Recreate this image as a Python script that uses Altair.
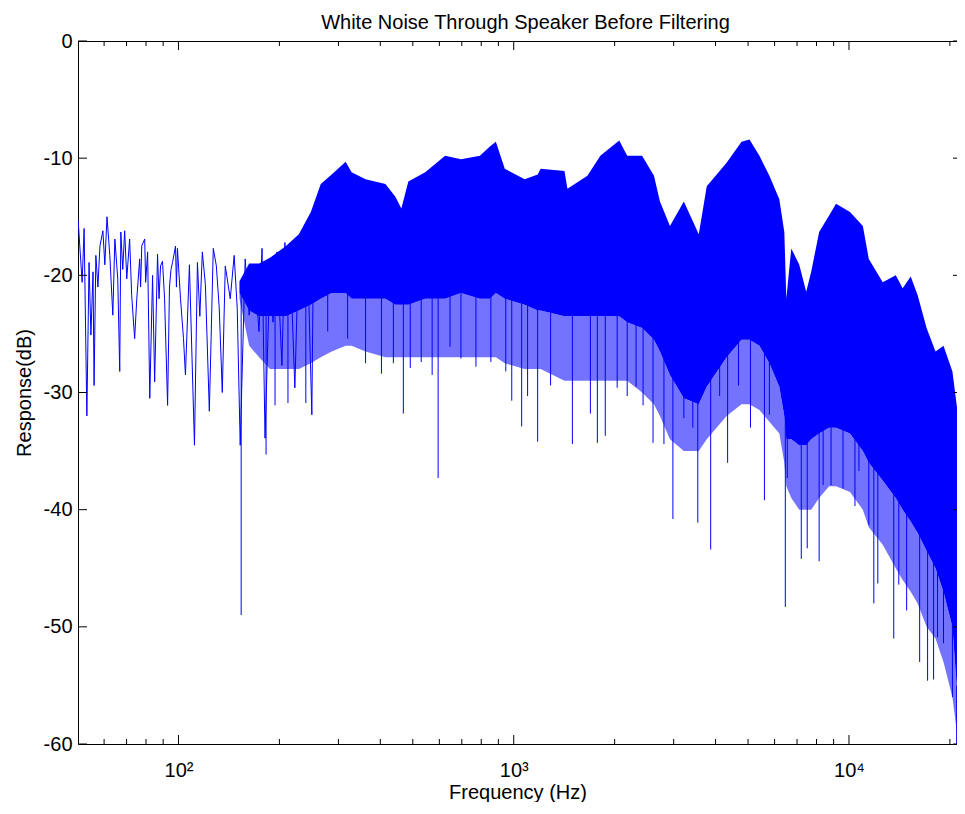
import altair as alt
import pandas as pd

# ---- sparse low-frequency trace (Hz, dB) ----
sparse_freq = [50.2, 51.6, 52.3, 53.3, 54.1, 54.8, 55.6, 56.0, 56.7, 57.5, 58.3, 59.5, 60.3, 61.2, 62.4,
               63.7, 64.6, 65.9, 66.8, 67.3, 68.2, 69.1, 70.1, 71.5, 72.5, 74.0, 75.1, 76.6, 77.1, 77.7,
               79.3, 79.8, 80.9, 82.1, 83.7, 84.9, 86.6, 87.5, 88.4, 89.6, 90.9, 92.8, 94.0, 95.0, 96.0,
               98.0, 98.6, 99.3, 101.4, 103.5, 104.9, 107.8, 111.6, 113.9, 115.8, 117.8, 120.3, 123.6,
               127.0, 129.7, 132.3, 135.1, 137.9, 142.7, 146.6, 149.7, 152.8, 158.1, 162.5, 168.1, 173.9,
               177.5, 181.2, 187.5, 191.4, 196.7, 203.5, 207.7, 211.3, 215.0, 222.4, 228.6, 234.9, 241.5,
               249.9, 253.3]
sparse_db = [-15.3, -20.6, -16.0, -32.0, -18.9, -25.1, -19.7, -29.4, -18.3, -21.0, -17.5, -16.2, -19.1, -15.0,
             -18.3, -23.4, -16.9, -20.3, -28.2, -16.3, -19.5, -16.2, -20.3, -16.9, -21.7, -25.4, -22.0, -18.6,
             -21.0, -17.5, -16.9, -20.6, -18.0, -30.5, -20.0, -29.1, -18.2, -22.0, -19.2, -18.8, -22.0, -31.1,
             -21.0, -19.5, -18.9, -17.5, -21.0, -17.7, -22.0, -25.4, -28.5, -19.1, -34.5, -18.9, -23.5, -18.0,
             -20.8, -31.6, -17.7, -19.2, -22.8, -30.0, -19.2, -22.0, -18.3, -22.8, -34.5, -18.6, -23.4, -19.2,
             -24.8, -17.7, -33.9, -19.2, -24.0, -18.0, -27.7, -17.2, -22.0, -17.7, -29.6, -16.9, -21.0, -15.8,
             -31.9, -14.6]

# ---- dense band: upper / lower envelope of the solid part, and of the spiky fringe (Hz, dB) ----
band_freq = [152.0, 162.5, 173.9, 187.5, 209.2, 228.6, 248.2, 265.7, 286.4, 315.2, 328.4, 361.4, 414.3, 443.6,
             462.1, 484.9, 544.5, 624.2, 696.0, 792.7, 848.9, 884.5, 940.3, 1078, 1179, 1203, 1417, 1446, 1659,
             1813, 2064, 2180, 2415, 2620, 2730, 2924, 3217, 3564, 3765, 4315, 4781, 5050, 5406, 5789, 6198,
             6414, 6503, 6729, 7107, 7455, 7714, 8147, 8725, 9150, 10070, 11000, 11460, 12610, 13790, 14460,
             15280, 16030, 17040, 18120, 19140, 20350, 21200, 21640]
band_top = [-20.5, -19.0, -19.0, -18.5, -17.5, -16.5, -14.6, -12.2, -11.4, -10.3, -11.2, -11.8, -12.2, -13.3,
            -14.3, -12.0, -11.2, -9.8, -10.1, -9.8, -9.0, -8.6, -10.9, -11.8, -11.4, -10.9, -11.1, -12.6, -11.5,
            -9.8, -8.5, -9.8, -9.8, -11.5, -13.7, -15.8, -13.7, -16.5, -12.4, -10.4, -8.6, -8.4, -9.8, -11.5,
            -13.5, -16.3, -22.0, -17.7, -19.1, -21.4, -19.7, -16.3, -14.9, -13.9, -14.6, -15.8, -18.6, -20.6,
            -20.0, -21.1, -20.1, -21.7, -24.5, -26.5, -26.0, -28.2, -32.2, -35.0]
band_bot = [-21.5, -23.0, -23.5, -23.5, -23.5, -23.0, -22.5, -22.0, -21.5, -21.5, -22.0, -22.0, -22.0, -22.5,
            -22.5, -22.5, -22.0, -22.0, -21.5, -22.0, -22.0, -21.5, -22.0, -22.5, -23.0, -23.0, -23.5, -23.5,
            -23.5, -23.5, -23.5, -24.0, -24.5, -25.5, -26.5, -28.5, -30.5, -31.0, -29.5, -27.0, -25.5, -25.5,
            -26.0, -27.5, -29.5, -32.0, -34.0, -34.0, -34.5, -34.5, -34.0, -33.5, -33.0, -33.0, -33.5, -35.0,
            -36.0, -37.5, -39.0, -40.0, -41.0, -42.0, -43.5, -45.0, -47.0, -50.0, -57.0, -60.0]
fringe_bot = [-22.0, -26.0, -27.0, -28.0, -28.0, -28.0, -27.5, -27.0, -26.5, -26.0, -26.0, -26.5, -27.0, -27.0,
              -27.0, -27.0, -27.0, -27.0, -27.0, -27.0, -27.0, -27.0, -27.5, -28.0, -28.0, -28.0, -29.0, -29.0,
              -29.0, -29.0, -29.0, -29.0, -30.0, -31.0, -32.0, -34.0, -35.0, -35.0, -34.0, -32.0, -31.0, -31.0,
              -31.5, -32.5, -33.5, -36.0, -38.0, -39.0, -40.0, -40.0, -40.0, -39.0, -38.0, -38.0, -38.5, -40.0,
              -41.5, -43.0, -45.0, -46.0, -47.0, -48.0, -50.0, -51.0, -53.0, -56.0, -60.0, -60.0]

# ---- isolated downward spikes (Hz, tip dB, start dB) ----
spike_freq = [153.8, 182.5, 194.1, 212.1, 239.8, 278.7, 319.5, 361.4, 403.1, 437.5, 468.5, 491.3, 529.7, 571.0,
              595.0, 645.7, 696.0, 771.4, 854.7, 946.9, 986.5, 1056, 1100, 1178.5, 1288, 1496, 1693, 1776, 1875,
              2035, 2180, 2317, 2431, 2603, 2806, 2984, 3217, 3421, 3540, 3868, 4114, 4345, 4682, 5084, 5595,
              5789, 6458, 6546, 7206, 7507, 8147, 8373, 8843, 9598, 10420, 10710, 11460, 11860, 12190, 13600,
              14080, 14860, 16250, 17160, 17880, 18370, 19140, 20350, 20950]
spike_tip = [-49.0, -35.3, -31.1, -30.9, -30.9, -24.8, -25.4, -27.5, -28.4, -27.5, -31.8, -27.9, -27.4, -28.5,
             -37.3, -26.1, -27.1, -27.8, -27.4, -28.2, -30.7, -32.9, -30.3, -34.2, -29.4, -34.4, -31.8, -34.3,
             -33.7, -29.6, -30.3, -29.5, -31.1, -34.3, -34.4, -40.8, -32.2, -33.0, -41.1, -43.4, -30.3, -36.0,
             -29.4, -33.0, -39.2, -31.9, -48.3, -37.3, -44.2, -43.3, -44.4, -37.9, -37.9, -38.2, -39.7, -36.7,
             -41.3, -48.0, -46.3, -51.0, -46.4, -48.6, -53.0, -54.6, -54.5, -50.9, -51.4, -56.0, -60.0]
spike_top = [-21, -22, -22, -22, -22, -21, -21, -21, -21, -21, -21, -21, -21, -21, -21, -21, -21, -21, -21, -21,
             -21, -21, -22, -22, -22, -22, -22, -22, -22, -22, -23, -23, -23, -24, -25, -27, -29, -29, -29, -28,
             -27, -26, -25, -25, -26, -27, -31, -33, -33, -33, -33, -32, -32, -32, -32, -33, -35, -35, -36, -38,
             -39, -39, -41, -43, -44, -44, -46, -49, -55]

# ---- axis ticks ----
major_ticks = [100, 1000, 10000]
minor_ticks = [60, 70, 80, 90, 200, 300, 400, 500, 600, 700, 800, 900,
               2000, 3000, 4000, 5000, 6000, 7000, 8000, 9000, 20000]
y_ticks = [0, -10, -20, -30, -40, -50, -60]

W, H = 879, 703
FONT = "Liberation Sans"
BLUE = "#0000ff"

xscale = alt.Scale(type="log", domain=[50.15, 21000], nice=False)
yscale = alt.Scale(domain=[-60, 0], nice=False, zero=False)

band_df = pd.DataFrame({"f": band_freq, "top": band_top, "bot": band_bot, "fringe": fringe_bot})
sparse_df = pd.DataFrame({"f": sparse_freq, "db": sparse_db})
spike_df = pd.DataFrame({"f": spike_freq, "tip": spike_tip, "top": spike_top})
major_df = pd.DataFrame({"f": major_ticks})
minor_df = pd.DataFrame({"f": minor_ticks})
ytick_df = pd.DataFrame({"v": y_ticks})

x_bottom_axis = alt.Axis(
    values=major_ticks,
    labelExpr="datum.value == 100 ? '10²' : (datum.value == 1000 ? '10³' : '10⁴')",
    labelFont=FONT, labelFontSize=20, labelColor="black", labelBaseline="alphabetic",
    labelPadding=32, labelFlush=False, labelOverlap=False,
    ticks=False, tickSize=0, grid=False, domain=True, domainColor="black", domainWidth=1,
    title="Frequency (Hz)", titleFont=FONT, titleFontSize=20, titleFontWeight="normal",
    titleColor="black", titleBaseline="alphabetic", titleY=54,
)
y_left_axis = alt.Axis(
    values=y_ticks, labelExpr="'' + datum.value",
    labelFont=FONT, labelFontSize=20, labelColor="black", labelPadding=6,
    ticks=False, tickSize=0, grid=False, domain=True, domainColor="black", domainWidth=1,
    title="Response(dB)", titleFont=FONT, titleFontSize=20, titleFontWeight="normal",
    titleColor="black", titleBaseline="alphabetic", titleX=-48, titleY=H / 2, titleAngle=270,
)

fringe = alt.Chart(band_df).mark_area(color=BLUE, clip=True, opacity=0.55).encode(
    x=alt.X("f:Q", scale=xscale, axis=None),
    y=alt.Y("bot:Q", scale=yscale, axis=None),
    y2="fringe:Q",
)

band = alt.Chart(band_df).mark_area(color=BLUE, clip=True, opacity=1).encode(
    x=alt.X("f:Q", scale=xscale, axis=x_bottom_axis),
    y=alt.Y("top:Q", scale=yscale, axis=y_left_axis),
    y2="bot:Q",
)

sparse = alt.Chart(sparse_df).mark_line(color=BLUE, strokeWidth=1, clip=True).encode(
    x=alt.X("f:Q", scale=xscale, axis=None),
    y=alt.Y("db:Q", scale=yscale, axis=None),
)

spikes = alt.Chart(spike_df).mark_rule(color=BLUE, strokeWidth=1, clip=True).encode(
    x=alt.X("f:Q", scale=xscale, axis=None),
    y=alt.Y("tip:Q", scale=yscale, axis=None),
    y2="top:Q",
)

top_axis = alt.Axis(orient="top", labels=False, ticks=False, grid=False, domain=True,
                    domainColor="black", domainWidth=1, title=None, minExtent=0, maxExtent=0)

tick_bottom_major = alt.Chart(major_df).mark_rule(color="black").encode(
    x=alt.X("f:Q", scale=xscale, axis=None), y=alt.value(H), y2=alt.value(H - 9))
tick_bottom_minor = alt.Chart(minor_df).mark_rule(color="black").encode(
    x=alt.X("f:Q", scale=xscale, axis=None), y=alt.value(H), y2=alt.value(H - 5))
tick_top_major = alt.Chart(major_df).mark_rule(color="black").encode(
    x=alt.X("f:Q", scale=xscale, axis=top_axis), y=alt.value(0), y2=alt.value(9))
tick_top_minor = alt.Chart(minor_df).mark_rule(color="black").encode(
    x=alt.X("f:Q", scale=xscale, axis=None), y=alt.value(0), y2=alt.value(5))
tick_left = alt.Chart(ytick_df).mark_rule(color="black").encode(
    y=alt.Y("v:Q", scale=yscale, axis=None), x=alt.value(0), x2=alt.value(9))
tick_right = alt.Chart(ytick_df).mark_rule(color="black").encode(
    y=alt.Y("v:Q", scale=yscale, axis=None), x=alt.value(W - 4), x2=alt.value(W))

chart = alt.layer(
    fringe, band, spikes, sparse,
    tick_bottom_major, tick_bottom_minor, tick_top_major, tick_top_minor, tick_left, tick_right,
).resolve_axis(x="independent", y="independent").properties(
    width=W, height=H,
    title=alt.TitleParams(
        "White Noise Through Speaker Before Filtering", font=FONT, fontSize=20,
        fontWeight="normal", color="black", anchor="middle", baseline="alphabetic",
        offset=2, dx=8, dy=20,
    ),
    padding={"left": 70, "top": 33, "right": 0, "bottom": 58},
    autosize=alt.AutoSizeParams(type="none"),
    background="white",
).configure_view(stroke=None)

chart.save("out.html", embed_options={"renderer": "svg", "actions": False})
